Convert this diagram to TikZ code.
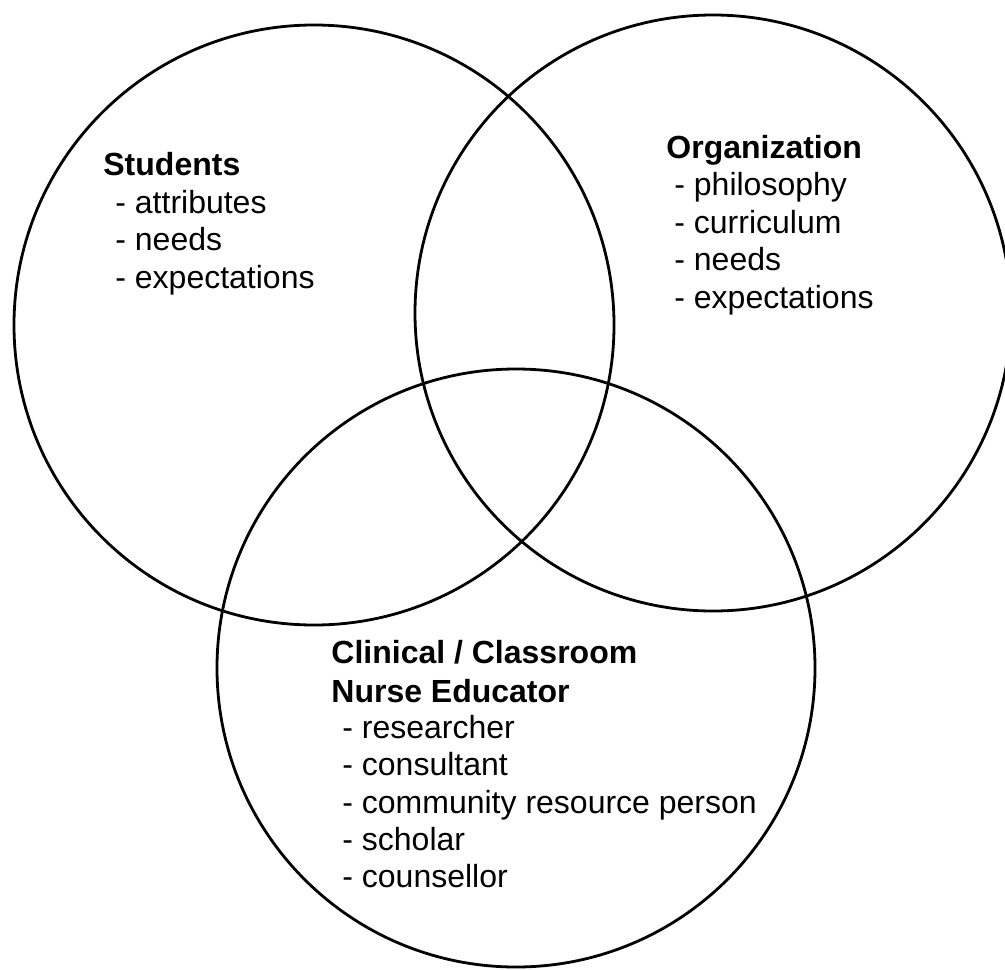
\documentclass[tikz,border=0pt]{standalone}
\usepackage{fontspec}
\setmainfont{Liberation Sans}

\tikzset{
  ring/.style={line width=1.4pt},
  head/.style={anchor=base west, inner sep=0pt, font=\fontsize{16}{18}\selectfont\bfseries},
  item/.style={anchor=base west, inner sep=0pt, font=\fontsize{16}{18}\selectfont}
}

\begin{document}
\begin{tikzpicture}[x=0.5pt, y=-0.5pt]

  \useasboundingbox (0,0) rectangle (1005,969);
  \clip (0,0) rectangle (1005,969);

  % --- Centres ---
  \coordinate (S) at (314,325);
  \coordinate (O) at (713,313);
  \coordinate (N) at (516,668);

  % --- Circles ---
  \draw[ring] (S) circle[radius=300];
  \draw[ring] (O) circle[radius=298];
  \draw[ring] (N) circle[radius=299];

  % --- Students ---
  \node[head] (stud)  at (103,175) {Students};
  \node[item] (stud1) at (115,213) {- attributes};
  \node[item] (stud2) at (115,250) {- needs};
  \node[item] (stud3) at (115,288) {- expectations};

  % --- Organization ---
  \node[head] (org)  at (666,158) {Organization};
  \node[item] (org1) at (674,195) {- philosophy};
  \node[item] (org2) at (674,233) {- curriculum};
  \node[item] (org3) at (674,270) {- needs};
  \node[item] (org4) at (674,308) {- expectations};

  % --- Nurse educator ---
  \node[head] (edu)  at (331,663) {Clinical / Classroom};
  \node[head] (edu0) at (331,702) {Nurse Educator};
  \node[item] (edu1) at (342,738) {- researcher};
  \node[item] (edu2) at (342,775) {- consultant};
  \node[item] (edu3) at (342,813) {- community resource person};
  \node[item] (edu4) at (342,850) {- scholar};
  \node[item] (edu5) at (342,887) {- counsellor};

\end{tikzpicture}
\end{document}
